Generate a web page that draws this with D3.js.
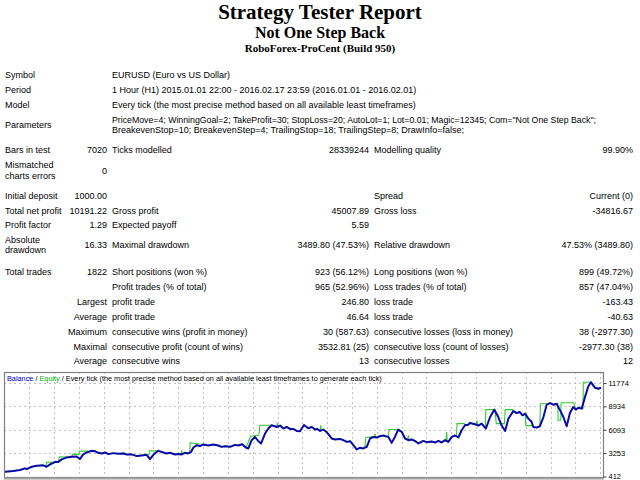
<!DOCTYPE html>
<html>
<head>
<meta charset="utf-8">
<script src="https://cdn.jsdelivr.net/npm/d3@7"></script>
<style>
  html, body { margin: 0; padding: 0; background: #fff; }
  svg { display: block; }
  .t { font-family: "Liberation Sans", Arial, sans-serif; font-size: 9px; fill: #000; }
</style>
</head>
<body>
<svg id="c" width="640" height="480"></svg>
<script>
// ---------------- DATA ----------------
const titleLines = ["Strategy Tester Report", "Not One Step Back", "RoboForex-ProCent (Build 950)"];

// Report table: [labelA, valueB, labelC, valueD, labelE, valueF]
const reportRows = [
  ["Symbol", "", "EURUSD (Euro vs US Dollar)", "", "", ""],
  ["Period", "", "1 Hour (H1) 2015.01.01 22:00 - 2016.02.17 23:59 (2016.01.01 - 2016.02.01)", "", "", ""],
  ["Model", "", "Every tick (the most precise method based on all available least timeframes)", "", "", ""],
  ["Parameters", "", "PriceMove=4; WinningGoal=2; TakeProfit=30; StopLoss=20; AutoLot=1; Lot=0.01; Magic=12345; Com=\"Not One Step Back\";|BreakevenStop=10; BreakevenStep=4; TrailingStop=18; TrailingStep=8; DrawInfo=false;", "", "", ""],
  ["Bars in test", "7020", "Ticks modelled", "28339244", "Modelling quality", "99.90%"],
  ["Mismatched|charts errors", "0", "", "", "", ""],
  ["Initial deposit", "1000.00", "", "", "Spread", "Current (0)"],
  ["Total net profit", "10191.22", "Gross profit", "45007.89", "Gross loss", "-34816.67"],
  ["Profit factor", "1.29", "Expected payoff", "5.59", "", ""],
  ["Absolute|drawdown", "16.33", "Maximal drawdown", "3489.80 (47.53%)", "Relative drawdown", "47.53% (3489.80)"],
  ["Total trades", "1822", "Short positions (won %)", "923 (56.12%)", "Long positions (won %)", "899 (49.72%)"],
  ["", "", "Profit trades (% of total)", "965 (52.96%)", "Loss trades (% of total)", "857 (47.04%)"],
  ["", "Largest", "profit trade", "246.80", "loss trade", "-163.43"],
  ["", "Average", "profit trade", "46.64", "loss trade", "-40.63"],
  ["", "Maximum", "consecutive wins (profit in money)", "30 (587.63)", "consecutive losses (loss in money)", "38 (-2977.30)"],
  ["", "Maximal", "consecutive profit (count of wins)", "3532.81 (25)", "consecutive loss (count of losses)", "-2977.30 (38)"],
  ["", "Average", "consecutive wins", "13", "consecutive losses", "12"]
];

const captionParts = ["Balance", " / ", "Equity", " / Every tick (the most precise method based on all available least timeframes to generate each tick)"];

// Balance curve (trade number, balance)
const balTrades = [0,25,46,61,66,82,97,117,127,138,153,163,173,189,204,219,229,239,250,265,275,285,296,306,316,331,346,362,372,387,403,418,433,443,453,464,469,484,494,504,520,530,540,550,560,569,576,586,596,606,621,637,652,662,673,688,703,713,725,736,744,754,764,774,783,795,805,815,831,841,851,861,871,881,892,902,914,927,938,948,955,963,973,983,999,1009,1024,1034,1045,1055,1065,1075,1085,1095,1106,1116,1126,1136,1146,1156,1172,1182,1192,1202,1213,1223,1233,1243,1253,1264,1279,1289,1304,1315,1325,1335,1345,1355,1366,1376,1386,1396,1406,1416,1421,1437,1447,1457,1470,1483,1496,1508,1518,1529,1539,1554,1564,1574,1582,1590,1600,1610,1615,1625,1635,1646,1656,1666,1676,1686,1697,1707,1717,1727,1737,1745,1753,1763,1773,1783,1791,1804,1814,1822];
const balValues = [1000,1077,1198,1403,1318,1596,1717,1766,1596,1887,2201,2165,2491,2733,2805,2854,2527,3095,3337,3530,3494,3289,3216,3337,3132,3252,3168,3216,3095,3095,2890,2974,3047,2527,3011,3410,3530,3337,3216,3289,3095,3132,3095,3289,3216,3410,3941,4219,4099,4304,4183,4304,4183,4014,4099,4014,4256,4183,4340,3935,3820,4824,5223,4739,4425,5634,6238,6637,6431,6601,6238,6431,6190,6190,5948,5912,6673,6274,6431,6117,6190,5948,6117,5827,5029,4908,4981,4824,4618,4703,4219,3700,3893,3820,4014,5029,5223,5150,5307,5392,5223,4497,5223,6117,5827,5029,4824,4908,4739,4425,4739,4582,4667,4546,4739,4546,4824,4618,5223,5392,5150,6032,6637,6700,6915,6758,6601,6842,6238,7640,8534,7640,6637,5948,7447,8365,8123,8244,7846,8051,7447,7036,6431,6359,6516,7640,9139,9332,9139,9260,8450,7640,6516,8123,8849,8534,8776,8655,10057,11351,11870,11194,11073,11191];

// Equity: follows balance except in these stretches (trade numbers / equity values)
const eqPatchTrades = [
  [125,127,152],[163,166,189],[204,206,226,228,262],[360,362,364],[440,442,464],[538,540,542],
  [560,565,566,592],[736,740,751,776,779,812],[831,832,836],[963,965,967],[1100,1103,1126],
  [1129,1131,1133],[1172,1174,1200],[1231,1233,1235],[1348,1350,1352],[1376,1380,1382,1404],
  [1441,1443,1445],[1468,1470,1496],[1498,1502,1527,1529,1552],[1590,1592,1612],[1635,1637,1662],
  [1686,1690,1691,1699,1700,1738],[1763,1767,1768,1790]
];
const eqPatchValues = [
  [1600,2128,2180],[2165,2800,2780],[2805,3095,3095,3494,3494],[3216,3337,3216],[3047,3530,3530],[3095,3600,3095],
  [3216,3300,4497,4400],[3935,4250,5307,5428,6637,6637],[6431,6842,6550],[5948,6637,5990],[3900,5150,5223],
  [5190,5634,5190],[5223,6117,6117],[4850,5428,4850],[4700,5827,4680],[5392,5300,6842,6842],
  [6650,7241,6620],[6300,8534,8534],[8450,6842,6842,8534,8534],[8051,6600,6600],[6516,9260,9260],
  [9260,9260,7241,7241,9380,9380],[8655,8655,11870,11870]
];

const yTickValues = [412, 3253, 6093, 8934, 11774];
const totalTrades = 1822;

// ---------------- DRAW ----------------
const svg = d3.select("#c");

// Titles
const titleSizes = [21, 16, 11];
const titleY = [18.5, 38, 51.5];
svg.selectAll("text.title").data(titleLines).enter().append("text")
  .attr("class", "title")
  .attr("x", 320).attr("y", (d, i) => titleY[i])
  .attr("text-anchor", "middle")
  .style("font-family", "'Liberation Serif', 'Times New Roman', serif")
  .style("font-weight", "bold")
  .style("font-size", (d, i) => titleSizes[i] + "px")
  .text(d => d);

// Table layout
const rowY = [75, 90, 104.5, 124.5, 150, 170.5, 196, 210.7, 225.3, 245, 272.3, 287, 302.3, 316.9, 331.7, 346.7, 361.3];
const colX = [5, 107, 112, 369, 374, 633];
const colAnchor = ["start", "end", "start", "end", "start", "end"];
const lineGap = [0, 0, 0, 10, 0, 11, 0, 0, 0, 10.5, 0, 0, 0, 0, 0, 0, 0];

reportRows.forEach((row, ri) => {
  row.forEach((cell, ci) => {
    if (!cell) return;
    const lines = cell.split("|");
    const n = lines.length;
    const baseY = rowY[ri];
    lines.forEach((ln, li) => {
      const off = (li - (n - 1) / 2) * (lineGap[ri] || 10);
      const tx = svg.append("text").attr("class", "t")
        .attr("x", colX[ci]).attr("y", baseY + off)
        .attr("dy", "0.35em")
        .attr("text-anchor", colAnchor[ci])
        .text(ln);
      if (ri === 3 && ci === 2 && li === 0) {
        tx.attr("textLength", 484).attr("lengthAdjust", "spacingAndGlyphs");
      }
    });
  });
});

// Chart frame
const frame = { x0: 4, y0: 372, x1: 603, y1: 477 };
const x = d3.scaleLinear().domain([0, totalTrades]).range([5, 601]);
const y = d3.scaleLinear().domain([yTickValues[0], yTickValues[yTickValues.length - 1]]).range([476.5, 383]);

const g = svg.append("g");
g.append("rect").attr("x", frame.x0).attr("y", frame.y0)
  .attr("width", frame.x1 - frame.x0).attr("height", frame.y1 - frame.y0)
  .attr("fill", "#fff");

// Grid: horizontal at ticks
g.selectAll("line.hg").data(yTickValues.slice(1)).enter().append("line")
  .attr("x1", frame.x0).attr("x2", frame.x1)
  .attr("y1", d => Math.round(y(d)) + 0.5).attr("y2", d => Math.round(y(d)) + 0.5)
  .attr("stroke", "#c0c0c0").attr("stroke-width", 1).attr("stroke-dasharray", "2,3");
// Grid: vertical
const vx = d3.range(29.3, frame.x1 - 1, 24.82);
g.selectAll("line.vg").data(vx).enter().append("line")
  .attr("x1", d => Math.round(d) + 0.5).attr("x2", d => Math.round(d) + 0.5)
  .attr("y1", frame.y0).attr("y2", frame.y1)
  .attr("stroke", "#c0c0c0").attr("stroke-width", 1).attr("stroke-dasharray", "2,3");

// Build series
const balance = balTrades.map((t, i) => ({ t, v: balValues[i] }));
let equity = balance.filter(p => !eqPatchTrades.some(pt => p.t >= pt[0] && p.t <= pt[pt.length - 1]));
eqPatchTrades.forEach((pt, k) => pt.forEach((t, j) => equity.push({ t, v: eqPatchValues[k][j] })));
equity.sort((a, b) => a.t - b.t);

const line = d3.line().x(d => x(d.t)).y(d => y(d.v));
g.append("path").datum(equity).attr("d", line)
  .attr("fill", "none").attr("stroke", "#33cc33").attr("stroke-width", 1.1);
g.append("path").datum(balance).attr("d", line)
  .attr("fill", "none").attr("stroke", "#0a0aa8").attr("stroke-width", 2)
  .attr("stroke-linejoin", "round");

// Border
g.append("rect").attr("x", frame.x0 + 0.5).attr("y", frame.y0 + 0.5)
  .attr("width", frame.x1 - frame.x0).attr("height", frame.y1 - frame.y0)
  .attr("fill", "none").attr("stroke", "#808080").attr("stroke-width", 1.2);
g.append("line").attr("x1", frame.x0).attr("x2", frame.x1 + 1)
  .attr("y1", frame.y1 + 1.5).attr("y2", frame.y1 + 1.5)
  .attr("stroke", "#a0a0a0").attr("stroke-width", 2);

// Right axis
const axis = d3.axisRight(y).tickValues(yTickValues).tickSize(3).tickPadding(2).tickFormat(d3.format("d"));
const ag = svg.append("g").attr("transform", `translate(${frame.x1 + 0.5},0)`).call(axis);
ag.select(".domain").remove();
ag.selectAll(".tick line").attr("stroke", "#404040");
ag.selectAll(".tick text")
  .style("font-family", "'Liberation Sans', Arial, sans-serif")
  .style("font-size", "7.5px").attr("fill", "#000");

// Caption
const capColors = ["#0000d0", "#000", "#00b000", "#000"];
const cap = svg.append("text").attr("x", 7).attr("y", 378.5).attr("dy", "0.35em")
  .style("font-family", "'Liberation Sans', Arial, sans-serif").style("font-size", "7.3px");
captionParts.forEach((p, i) => cap.append("tspan").attr("fill", capColors[i]).text(p));
</script>
</body>
</html>
